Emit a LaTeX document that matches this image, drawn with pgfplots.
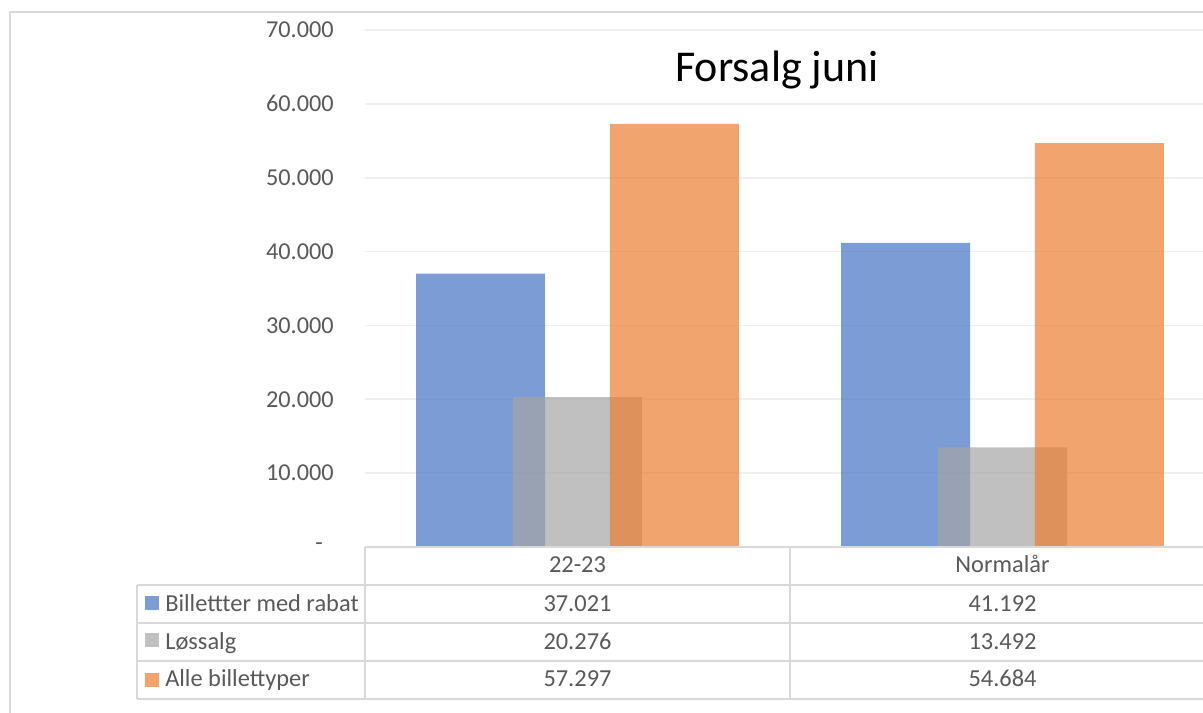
\documentclass[border=0pt]{standalone}
\usepackage{pgfplots}
\pgfplotsset{compat=1.18}
\usepackage{fontspec}
\setmainfont{Carlito}
\definecolor{cblue}{HTML}{4472C4}
\definecolor{cgray}{HTML}{A5A5A5}
\definecolor{corange}{HTML}{ED7D31}
\definecolor{ctext}{HTML}{595959}
\definecolor{cline}{HTML}{D9D9D9}
\definecolor{cgrid}{HTML}{EFEFEF}
\begin{document}
\begin{tikzpicture}
\useasboundingbox (-273.75pt,-124.5pt) rectangle (628.5pt,410.25pt);
\clip (-273.75pt,-124.5pt) rectangle (628.5pt,410.25pt);
\begin{axis}[
 scale only axis, width=637.5pt, height=387.75pt,
 xmin=-0.5, xmax=1.5, ymin=0, ymax=70000,
 ybar, bar width=0.3035,
 axis line style={draw=none},
 xtick=\empty,
 scaled y ticks=false,
 ytick={0,10000,20000,30000,40000,50000,60000,70000},
 yticklabels={{-\kern8.25pt},10.000,20.000,30.000,40.000,50.000,60.000,70.000},
 major tick length=0,
 ymajorgrids, major grid style={cgrid, line width=1.2pt},
 yticklabel style={font=\fontsize{18.2}{21}\selectfont, text=ctext, anchor=east, inner sep=0pt, xshift=-23.25pt},
 /pgf/number format/assume math mode=true,
 clip=false,
]
\addplot[fill=cblue, fill opacity=0.7, draw=none, bar shift=-0.228] coordinates {(0,37021) (1,41192)};
\addplot[fill=cgray, fill opacity=0.7, draw=none, bar shift=0] coordinates {(0,20276) (1,13492)};
\addplot[fill=corange, fill opacity=0.7, draw=none, bar shift=0.228] coordinates {(0,57297) (1,54684)};
\end{axis}
\begin{scope}[shift={(-273.75pt,410.25pt)}, x=0.75pt, y=-0.75pt]
 \draw[cline, line width=1.5pt] (10,713) -- (10,12) -- (1203,12);
 \draw[cline, line width=1.5pt] (365,547) -- (1203,547);
 \foreach \yy in {585,623,661,699} {\draw[cline, line width=1.5pt] (137,\yy) -- (1203,\yy);}
 \draw[cline, line width=1.5pt] (137,585) -- (137,699);
 \draw[cline, line width=1.5pt] (365,547) -- (365,699);
 \draw[cline, line width=1.5pt] (790,547) -- (790,699);
 \node[anchor=base, font=\fontsize{33}{40}\selectfont] at (777,82) {Forsalg juni};
 \begin{scope}[every node/.style={text=ctext, font=\fontsize{18.3}{21}\selectfont, inner sep=0pt}]
  \node[anchor=base] at (577.5,573) {22-23};
  \node[anchor=base] at (1002.5,573) {Normalår};
  \node[anchor=base] at (577.5,612) {37.021};
  \node[anchor=base] at (1002.5,612) {41.192};
  \node[anchor=base] at (577.5,649.5) {20.276};
  \node[anchor=base] at (1002.5,649.5) {13.492};
  \node[anchor=base] at (577.5,687) {57.297};
  \node[anchor=base] at (1002.5,687) {54.684};
  \node[anchor=base west] at (165,612) {Billettter med rabat};
  \node[anchor=base west] at (165,649.5) {Løssalg};
  \node[anchor=base west] at (165,687) {Alle billettyper};
 \end{scope}
 \fill[cblue, fill opacity=0.7] (145,596) rectangle (159,610);
 \fill[cgray, fill opacity=0.7] (145,633) rectangle (159,647);
 \fill[corange, fill opacity=0.7] (145,673) rectangle (159,687);
\end{scope}
\end{tikzpicture}
\end{document}
